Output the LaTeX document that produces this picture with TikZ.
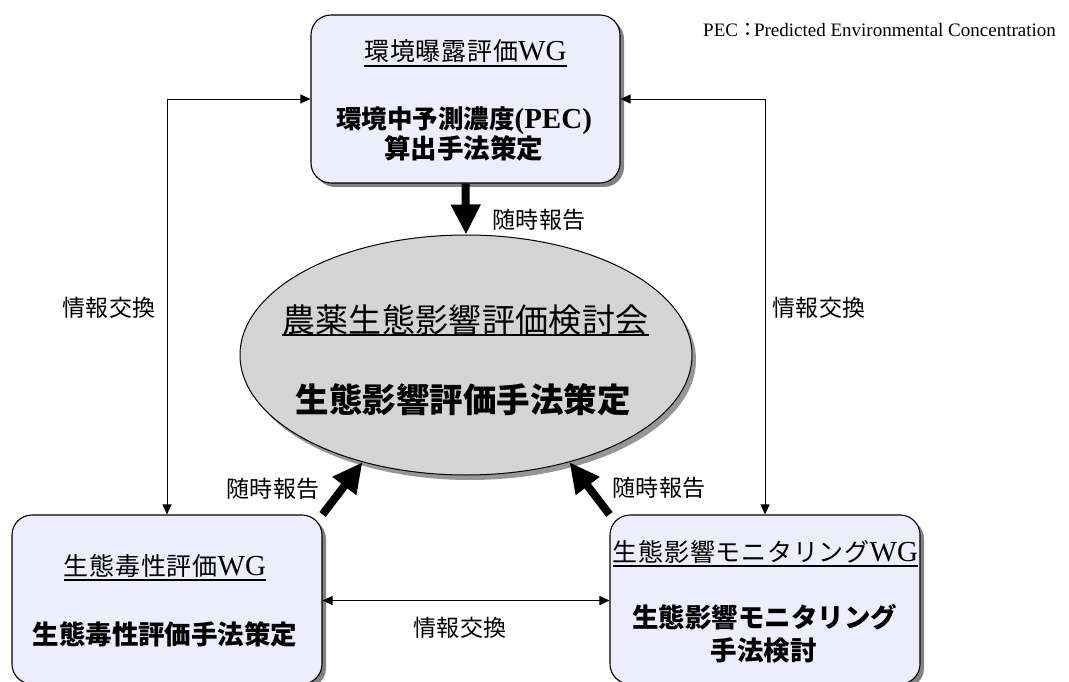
\documentclass[tikz,border=0pt]{standalone}
\usepackage{fontspec}
\setmainfont{Liberation Serif}
\newfontfamily\jp{Noto Sans CJK JP}
\usetikzlibrary{shapes.geometric,arrows.meta,shadows}
\definecolor{boxfill}{RGB}{237,237,252}
\definecolor{ellfill}{RGB}{212,212,212}
\definecolor{shad}{RGB}{130,130,130}
\definecolor{eshad}{RGB}{150,150,150}
\newcommand{\ttlfont}{\jp\fontsize{25}{25}\selectfont\addfontfeature{LetterSpace=3}}
\newcommand{\bldfont}{\jp\bfseries\fontsize{26.5}{26.5}\selectfont}
\newcommand{\lblfont}{\jp\fontsize{23}{23}\selectfont\addfontfeature{LetterSpace=2}}
\newcommand{\wgtext}{{\fontsize{29}{29}\selectfont WG}}
\begin{document}
\begin{tikzpicture}[x=1pt,y=-1pt,
  wgbox/.style={draw=black, line width=1.1pt, fill=boxfill, rounded corners=20pt, inner sep=0pt,
    drop shadow={shadow xshift=4pt, shadow yshift=-4pt, fill=shad, opacity=1}},
  meeting/.style={ellipse, draw=black, line width=1pt, fill=ellfill, inner sep=0pt,
    minimum width=452pt, minimum height=240pt,
    drop shadow={shadow xshift=4pt, shadow yshift=-5pt, fill=eshad, opacity=1}},
  txt/.style={inner sep=0pt, anchor=base},
  lbl/.style={inner sep=0pt, anchor=base west, font=\lblfont},
  uline/.style={line width=1.3pt},
  link/.style={line width=0.9pt, {Triangle[length=10pt,width=9pt]}-{Triangle[length=10pt,width=9pt]}},
  report/.style={line width=8pt, -{Triangle[length=30pt,width=28pt]}}
]
\useasboundingbox (0,0) rectangle (1069,682);

% boxes
\node[wgbox, minimum width=309pt, minimum height=168pt] (top) at (465.5,99) {};
\node[wgbox, minimum width=310pt, minimum height=169pt] (bl) at (167,599.5) {};
\node[wgbox, minimum width=310pt, minimum height=169pt] (br) at (765,599.5) {};
\node[meeting] (el) at (466,355) {};

% top box text
\node[txt] (t1) at (465.5,61) {{\ttlfont 環境曝露評価}\wgtext};
\draw[uline] ([yshift=-5pt]t1.base west) -- ([yshift=-5pt]t1.base east);
\node[txt] (t2) at (464,129) {{\jp\bfseries\fontsize{25.5}{25.5}\selectfont 環境中予測濃度}{\bfseries\fontsize{29}{29}\selectfont (PEC)}};
\node[txt] (t3) at (463.5,159) {\bldfont 算出手法策定};

% ellipse text
\node[txt] (e1) at (465.5,332) {\jp\fontsize{33}{33}\selectfont\addfontfeature{LetterSpace=1}農薬生態影響評価検討会};
\draw[uline] ([yshift=-3pt]e1.base west) -- ([yshift=-3pt]e1.base east);
\node[txt] (e2) at (463,412) {\jp\bfseries\fontsize{33.5}{33.5}\selectfont 生態影響評価手法策定};

% bottom-left box text
\node[txt] (b1) at (165,575) {{\ttlfont 生態毒性評価}\wgtext};
\draw[uline] ([yshift=-5pt]b1.base west) -- ([yshift=-5pt]b1.base east);
\node[txt] (b2) at (165,644) {\bldfont 生態毒性評価手法策定};

% bottom-right box text
\node[txt] (r1) at (765.5,561) {{\ttlfont 生態影響モニタリング}\wgtext};
\draw[uline] ([yshift=-5pt]r1.base west) -- ([yshift=-5pt]r1.base east);
\node[txt] (r2) at (764.5,627) {\bldfont 生態影響モニタリング};
\node[txt] (r3) at (763.5,660) {\bldfont 手法検討};

% connectors
\draw[link] (bl.north) |- (top.west);
\draw[link] (br.north) |- (top.east);
\draw[link] ([yshift=-1pt]bl.east) -- ([yshift=-1pt]br.west);
\draw[report] (top.south) -- (el.north);
\draw[report] (bl.north east) -- (el.226);
\draw[report] (br.north west) -- (el.314);

% labels
\node[lbl] (l1) at (492,228) {随時報告};
\node[lbl] (l2) at (226,497) {随時報告};
\node[lbl] (l3) at (612,496) {随時報告};
\node[lbl] (l4) at (62,316) {情報交換};
\node[lbl] (l5) at (772,316) {情報交換};
\node[lbl] (l6) at (413,636) {情報交換};

% note
\node[inner sep=0pt, anchor=base west, font=\fontsize{19}{19}\selectfont] (pec) at (703,37) {PEC{\jp ：}\kern-3pt Predicted Environmental Concentration};
\end{tikzpicture}
\end{document}
